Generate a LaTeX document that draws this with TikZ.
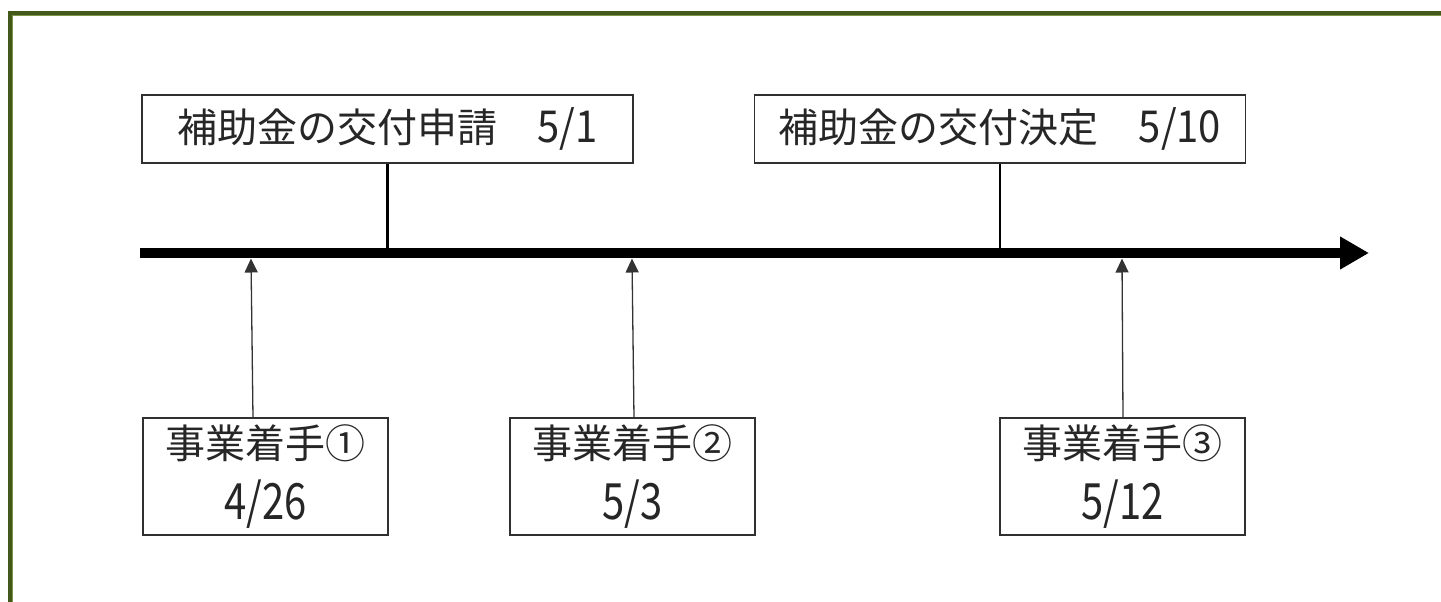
\documentclass[tikz,border=0pt]{standalone}
\usepackage{fontspec}
\newfontfamily\jp{Noto Sans CJK JP}
\usetikzlibrary{arrows.meta}
\definecolor{frameolive}{HTML}{43591A}
\definecolor{framelight}{HTML}{7A964A}
\definecolor{boxline}{HTML}{303030}
\newcommand{\tallnum}[2]{\raisebox{#2}{\scalebox{1}[#1]{\strut\kern0pt}}}
\newcommand{\dnum}[2]{\scalebox{1}[#1]{#2}}
\begin{document}
\begin{tikzpicture}[x=1pt,y=-1pt,
  box/.style={draw=boxline, line width=1.6pt, fill=white, inner sep=0pt,
    align=center, font=\jp\fontsize{40}{61}\selectfont, text=black!85},
  topbox/.style={box, minimum width=491pt, minimum height=68pt},
  botbox/.style={box, minimum width=245pt, minimum height=117pt},
  stem/.style={line width=2.6pt, black},
  axisline/.style={line width=10pt, black, -{Triangle[length=29pt,width=31pt]}},
  thinarrow/.style={line width=1.3pt, black!80, -{Triangle[length=14pt,width=13pt]}}]
\useasboundingbox (0,0) rectangle (1441,602);
% frame (right and bottom sides lie beyond the picture)
\draw[frameolive, line width=4pt] (10,620) -- (10,13) -- (1460,13);
\draw[framelight, line width=1pt] (12.5,620) -- (12.5,15.5) -- (1460,15.5);
% nodes
\node[topbox] (t1) at (387.5,129) {補助金の交付申請　\dnum{1.1}{5/1}};
\node[topbox] (t2) at (1000,129) {補助金の交付決定　\dnum{1.1}{5/10}};
\node[botbox] (b1) at (265.5,476.5) {事業着手①\\\dnum{1.25}{4/26}};
\node[botbox] (b2) at (632.5,476.5) {事業着手②\\\dnum{1.25}{5/3}};
\node[botbox] (b3) at (1122.5,476.5) {事業着手③\\\dnum{1.25}{5/12}};
% axis
\coordinate (axL) at (140,253);
\coordinate (axR) at (1369,253);
\draw[stem] (t1.south) -- (t1.south |- axL);
\draw[stem] (t2.south) -- (t2.south |- axL);
\draw[axisline] (axL) -- (axR);
% arrows from the bottom boxes
\coordinate (a1s) at (253,417.7);
\coordinate (a1e) at (251,258.5);
\coordinate (a2s) at (634,417.7);
\coordinate (a2e) at (632,258.5);
\coordinate (a3s) at (1123,417.7);
\coordinate (a3e) at (1122,258.5);
\draw[thinarrow] (a1s) -- (a1e);
\draw[thinarrow] (a2s) -- (a2e);
\draw[thinarrow] (a3s) -- (a3e);
\end{tikzpicture}
\end{document}
